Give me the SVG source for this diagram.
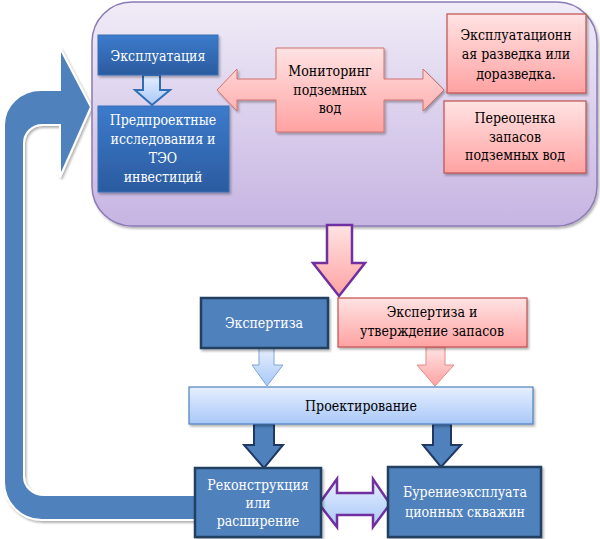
<svg xmlns="http://www.w3.org/2000/svg" width="600" height="539" viewBox="0 0 600 539">
<defs>
<linearGradient id="gPurple" x1="0" y1="0" x2="0" y2="1"><stop offset="0" stop-color="#f0ecf7"/><stop offset="1" stop-color="#c6b4e2"/></linearGradient>
<linearGradient id="gBlue" x1="0" y1="0" x2="0" y2="1"><stop offset="0" stop-color="#3c7bcc"/><stop offset="1" stop-color="#2b5b9f"/></linearGradient>
<linearGradient id="gPink" x1="0" y1="0" x2="0" y2="1"><stop offset="0" stop-color="#ffe3e3"/><stop offset="1" stop-color="#ffa2a2"/></linearGradient>
<linearGradient id="gLight" x1="0" y1="0" x2="0" y2="1"><stop offset="0" stop-color="#e6efff"/><stop offset="1" stop-color="#a9c8f8"/></linearGradient>
<filter id="sh" x="-10%" y="-10%" width="130%" height="130%"><feDropShadow dx="1.5" dy="2" stdDeviation="1" flood-color="#000" flood-opacity="0.3"/></filter>
</defs>
<style>
text{font-family:'DejaVu Serif Condensed','DejaVu Serif',serif;font-stretch:condensed;font-size:14px;text-anchor:middle}
.w{fill:#ffffff}
.k{fill:#000000}
.blue{fill:url(#gBlue);stroke:#3a6fb5;stroke-width:1}
.pink{fill:url(#gPink);stroke:#c0504d;stroke-width:1.2}
.light{fill:url(#gLight);stroke:#4f81bd;stroke-width:1.2}
.dark{fill:#4f81bd;stroke:#243f60;stroke-width:2.5}
</style>
<g id="connectors">
<path id="loop" d="M60 90 L41 90 A37 35 0 0 0 4 125 L4 482 A38 38 0 0 0 42 520 L200 520 L200 495 L44 495 A20 18 0 0 1 24 477 L24 143 A18 18 0 0 1 42 125 L60 125 L60 177 L91 107 L60 48 Z" fill="#4f81bd" stroke="#ffffff" stroke-width="2" filter="url(#sh)"/>
</g>
<g id="container">
<rect x="92" y="2" width="505" height="224" rx="40" fill="url(#gPurple)" stroke="#8c7bb5" stroke-width="1.5" filter="url(#sh)"/>
</g>
<g id="connectors-inner">
<path d="M143 75 L160 75 L160 90 L170 90 L152 105 L135 90 L143 90 Z" fill="url(#gLight)" stroke="#2f6db5" stroke-width="2"/>
</g>
<g id="n-expl">
<rect x="98" y="35" width="120" height="40" class="blue" filter="url(#sh)"/>
<text x="158" y="61" class="w">Эксплуатация</text>
</g>
<g id="n-pred">
<rect x="98" y="106" width="131" height="86" class="blue" filter="url(#sh)"/>
<text x="163" y="125" class="w">Предпроектные</text>
<text x="163" y="144" class="w">исследования и</text>
<text x="163" y="163" class="w">ТЭО</text>
<text x="163" y="182" class="w">инвестиций</text>
</g>
<g id="n-monitor">
<path d="M276 48 L384 48 L384 79 L423 79 L423 69 L444 90 L423 111 L423 100 L384 100 L384 132 L276 132 L276 100 L237 100 L237 111 L217 90 L237 69 L237 79 L276 79 Z" fill="url(#gPink)" stroke="#d0706c" stroke-width="1" filter="url(#sh)"/>
<text x="330" y="76" class="k">Мониторинг</text>
<text x="330" y="95" class="k">подземных</text>
<text x="330" y="113" class="k">вод</text>
</g>
<g id="n-razv">
<rect x="447" y="14" width="139" height="79" class="pink" filter="url(#sh)"/>
<text x="516" y="40" class="k">Эксплуатационн</text>
<text x="516" y="59" class="k">ая разведка или</text>
<text x="516" y="79" class="k">доразведка.</text>
</g>
<g id="n-pereoc">
<rect x="444" y="101" width="142" height="72" class="pink" filter="url(#sh)"/>
<text x="515" y="123" class="k">Переоценка</text>
<text x="515" y="142" class="k">запасов</text>
<text x="515" y="160" class="k">подземных вод</text>
</g>
<g id="connectors-mid">
<path d="M327 225 L352 225 L352 263 L365 263 L339 296 L313 263 L327 263 Z" fill="url(#gPink)" stroke="#7030a0" stroke-width="2.5"/>
<path d="M259 348 L274 348 L274 365 L283 365 L267 386 L252 365 L259 365 Z" fill="url(#gLight)" stroke="#7ea5da" stroke-width="1"/>
<path d="M426 347 L445 347 L445 365 L454 365 L435 386 L417 365 L426 365 Z" fill="url(#gPink)" stroke="#e08a88" stroke-width="1"/>
<path d="M254 424 L274 424 L274 445 L283 445 L264 468 L244 445 L254 445 Z" fill="#4f81bd" stroke="#1f3864" stroke-width="2"/>
<path d="M433 424 L451 424 L451 445 L461 445 L441 467 L423 445 L433 445 Z" fill="#4f81bd" stroke="#1f3864" stroke-width="2"/>
<path d="M319 504 L337 479 L337 493 L373 493 L373 479 L390 504 L373 527 L373 515 L337 515 L337 527 Z" fill="url(#gLight)" stroke="#7030a0" stroke-width="2.5"/>
</g>
<g id="n-expertiza">
<rect x="201" y="298" width="127" height="50" class="dark" filter="url(#sh)"/>
<text x="264" y="328" class="w">Экспертиза</text>
</g>
<g id="n-utv">
<rect x="338" y="298" width="189" height="49" class="pink" filter="url(#sh)"/>
<text x="432" y="317" class="k">Экспертиза и</text>
<text x="432" y="336" class="k">утверждение запасов</text>
</g>
<g id="n-proekt">
<rect x="189" y="387" width="344" height="37" class="light" filter="url(#sh)"/>
<text x="361" y="411" class="k">Проектирование</text>
</g>
<g id="n-rekon">
<rect x="195" y="468" width="126" height="69" class="dark" filter="url(#sh)"/>
<text x="258" y="490" class="w">Реконструкция</text>
<text x="258" y="508" class="w">или</text>
<text x="258" y="526" class="w">расширение</text>
</g>
<g id="n-burenie">
<rect x="388" y="467" width="153" height="70" class="dark" filter="url(#sh)"/>
<text x="465" y="497" class="w">Бурениеэксплуата</text>
<text x="465" y="517" class="w">ционных скважин</text>
</g>
</svg>
